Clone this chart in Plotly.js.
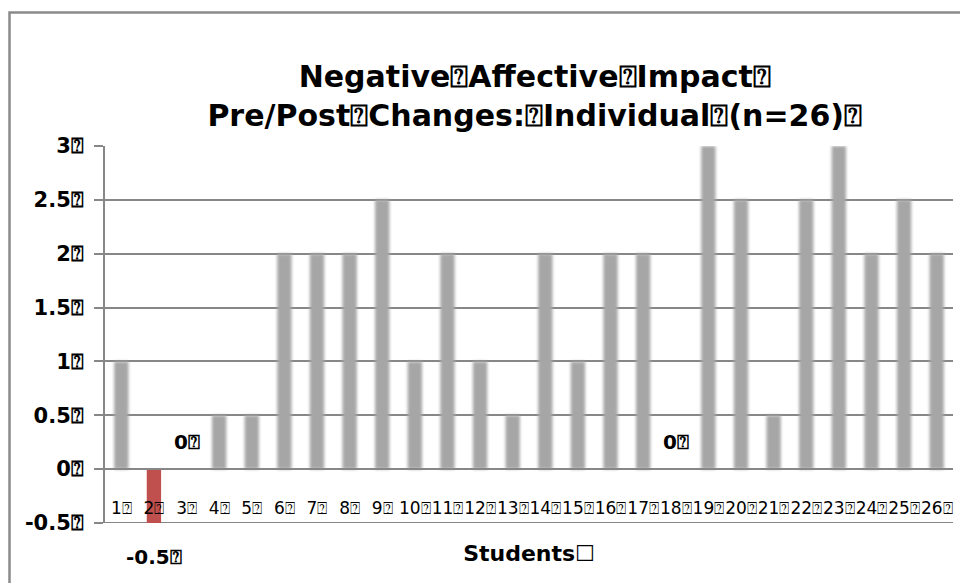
<!DOCTYPE html>
<html>
<head>
<meta charset="utf-8">
<script src="https://cdn.plot.ly/plotly-3.0.1.min.js"></script>
<style>
html,body{margin:0;padding:0;background:#fff;}
#chart{width:960px;height:583px;}
.blurbar{filter:blur(1.6px);}
</style>
</head>
<body>
<div id="chart"></div>
<script>
// ---- data ----
const students = ["1","2","3","4","5","6","7","8","9","10","11","12","13","14","15","16","17","18","19","20","21","22","23","24","25","26"];
const changes = [1, -0.5, 0, 0.5, 0.5, 2, 2, 2, 2.5, 1, 2, 1, 0.5, 2, 1, 2, 2, 0, 3, 2.5, 0.5, 2.5, 3, 2, 2.5, 2];
const yTickVals = [-0.5, 0, 0.5, 1, 1.5, 2, 2.5, 3];
const yTickText = ["-0.5⍰", "0⍰", "0.5⍰", "1⍰", "1.5⍰", "2⍰", "2.5⍰", "3⍰"];
const xTickText = students.map(s => s + "⍰");
const titleLines = ["Negative⍰Affective⍰Impact⍰", "Pre/Post⍰Changes:⍰Individual⍰(n=26)⍰"];
const xTitle = "Students☐";

const GRAY = "#a6a6a6", RED = "#c0504d", GRID = "#878787";
const FONT = "'DejaVu Sans', 'Noto Sans', sans-serif";

const colors = changes.map(v => v < 0 ? RED : GRAY);

const trace = {
  type: "bar",
  x: students,
  y: changes,
  marker: {color: colors, line: {width: 0}},
  hoverinfo: "x+y",
  showlegend: false
};

// data labels for the non-positive values
const annotations = [];
changes.forEach((v, i) => {
  if (v <= 0) {
    annotations.push({
      x: i, y: v, xref: "x", yref: "y",
      text: v + "⍰", showarrow: false,
      yshift: v < 0 ? -34 : 27,
      font: {family: FONT, size: 20, color: "#000", weight: "bold"}
    });
  }
});

const layout = {
  width: 960, height: 583,
  margin: {l: 105, r: 7, t: 146, b: 60},
  paper_bgcolor: "#fff", plot_bgcolor: "#fff",
  bargap: 0.56,
  title: {
    text: titleLines.join("<br>"),
    x: 0.557, xanchor: "center", y: 0.851, yanchor: "middle",
    font: {family: FONT, size: 30, color: "#000", weight: "bold"}
  },
  xaxis: {
    type: "category",
    anchor: "free", position: 0.5/3.5,
    showline: true, linecolor: GRID, linewidth: 2,
    ticks: "", ticklabelstandoff: 23, tickangle: 0,
    tickvals: students, ticktext: xTickText,
    tickfont: {family: FONT, size: 17, color: "#000"},
    showgrid: false, zeroline: false,
    title: {text: xTitle, standoff: 28,
      font: {family: FONT, size: 22, color: "#000", weight: "bold"}}
  },
  yaxis: {
    range: [-0.5, 3],
    tickvals: yTickVals, ticktext: yTickText,
    tickfont: {family: FONT, size: 21, color: "#000", weight: "bold"},
    showgrid: true, gridcolor: GRID, gridwidth: 2,
    zeroline: true, zerolinecolor: GRID, zerolinewidth: 2,
    showline: true, linecolor: GRID, linewidth: 2,
    ticks: "outside", ticklen: 9, tickcolor: GRID, tickwidth: 2,
    ticklabelstandoff: 6
  },
  annotations: annotations,
  shapes: [
    {type: "rect", xref: "paper", yref: "paper",
     x0: (9.5-105)/848, x1: 1.2, y0: -0.4, y1: 1 + (146-12.5)/377,
     line: {color: "#8a8a8a", width: 2.5}, fillcolor: "rgba(0,0,0,0)", layer: "below"},
    {type: "line", xref: "paper", yref: "y", x0: 0, x1: 1, y0: -0.5, y1: -0.5,
     line: {color: GRID, width: 2}, layer: "below"}
  ]
};

Plotly.newPlot("chart", [trace], layout, {displayModeBar: false, staticPlot: true}).then(gd => {
  gd.querySelectorAll(".bars .point path").forEach((p, i) => {
    if (changes[i] >= 0) p.classList.add("blurbar");
  });
});
</script>
</body>
</html>
